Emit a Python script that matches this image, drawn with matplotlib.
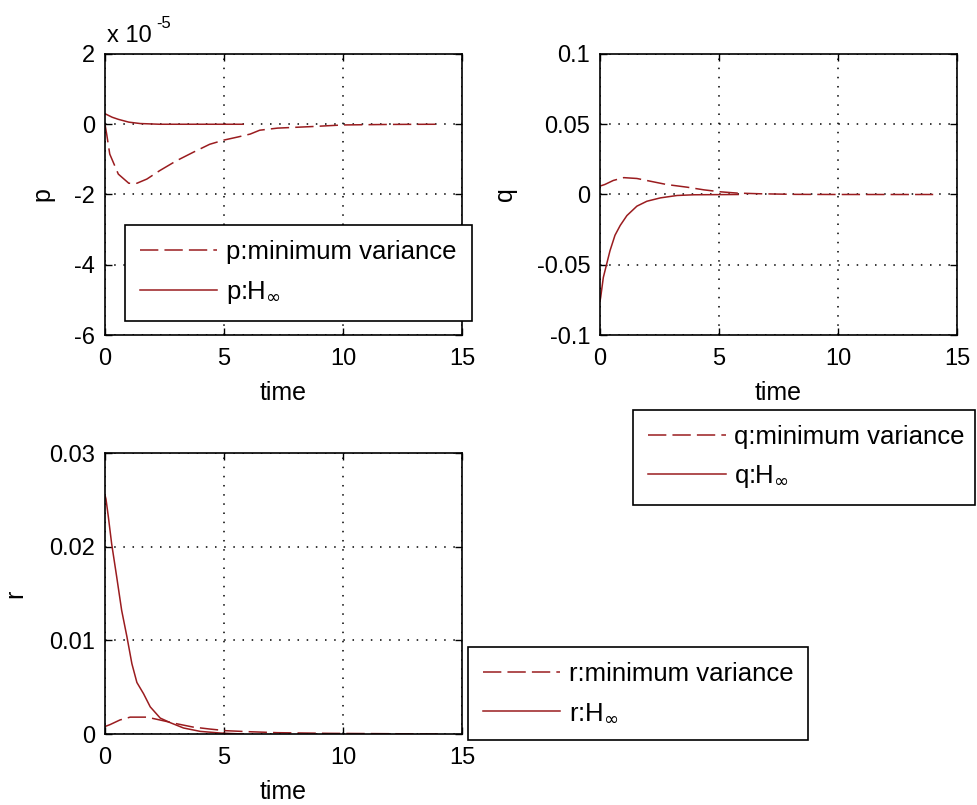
import numpy as np
import matplotlib
matplotlib.use("Agg")
import matplotlib.pyplot as plt

plt.rcParams['font.family'] = ['Liberation Sans', 'DejaVu Sans']
plt.rcParams['axes.unicode_minus'] = False
plt.rcParams['mathtext.fontset'] = 'dejavusans'

# p (units of 1e-5)
t_p_mv = [0, 0.07, 0.2, 0.56, 1.0, 1.34, 1.76, 2.3, 3.0, 3.7, 4.4, 5.0, 5.6, 6.1, 6.5, 7.25, 8.7, 10.0, 12.0, 14.0]
p_mv = [0, -0.28, -0.85, -1.42, -1.68, -1.68, -1.56, -1.32, -1.04, -0.8, -0.57, -0.45, -0.36, -0.28, -0.17, -0.11, -0.066, -0.02, -0.005, 0]
t_p_hinf = [0, 0.3, 0.56, 1.0, 1.48, 2.3, 3.5, 5.8]
p_hinf = [0.3, 0.2, 0.14, 0.06, 0.02, 0.0, 0.0, 0.0]

# q
t_q_mv = [0, 0.2, 0.56, 1.0, 1.55, 2.1, 2.8, 3.66, 4.37, 5.07, 5.77, 6.76, 8.2, 10, 14]
q_mv = [0.006, 0.0071, 0.010, 0.012, 0.0114, 0.0095, 0.0071, 0.0052, 0.0033, 0.0019, 0.001, 0.0005, 0.0001, 0, 0]
t_q_hinf = [0, 0.03, 0.14, 0.28, 0.42, 0.63, 0.85, 1.13, 1.55, 1.97, 2.54, 3.24, 3.94, 5.8]
q_hinf = [-0.076, -0.073, -0.059, -0.0495, -0.04, -0.029, -0.022, -0.015, -0.0083, -0.0048, -0.0024, -0.0007, -0.0002, 0]

# r
t_r_mv = [0, 0.21, 0.63, 1.06, 1.76, 2.3, 3.0, 3.7, 4.4, 5.1, 6.0, 7.25, 9.4, 14]
r_mv = [0.0008, 0.001, 0.0015, 0.0018, 0.0018, 0.0015, 0.0011, 0.00074, 0.00053, 0.00035, 0.00025, 0.00014, 0.00007, 0]
t_r_hinf = [0, 0.04, 0.14, 0.28, 0.49, 0.7, 0.92, 1.13, 1.34, 1.62, 1.9, 2.32, 2.75, 3.3, 4.0, 4.86, 5.8]
r_hinf = [0.0255, 0.0251, 0.0232, 0.0203, 0.0168, 0.0132, 0.0104, 0.0075, 0.0055, 0.0043, 0.0029, 0.0017, 0.0012, 0.00064, 0.00028, 0.0001, 0]

x_ticks = [0, 5, 10, 15]
p_ticks = [-6, -4, -2, 0, 2]
q_ticks = [-0.1, -0.05, 0, 0.05, 0.1]
q_labels = ['-0.1', '-0.05', '0', '0.05', '0.1']
r_ticks = [0, 0.01, 0.02, 0.03]
r_labels = ['0', '0.01', '0.02', '0.03']

col = '#9a1c1f'
W, H = 978, 805
fig = plt.figure(figsize=(W / 100, H / 100), dpi=100)


def fx(px):
    return px / W


def fy(py):
    return 1 - py / H


def make_ax(l, t, r, b):
    ax = fig.add_axes([fx(l), fy(b), fx(r - l), (b - t) / H])
    ax.tick_params(direction='in', length=5, width=1, top=True, right=True,
                   labelsize=17)
    ax.tick_params(axis='x', pad=9)
    ax.tick_params(axis='y', pad=7)
    for s in ax.spines.values():
        s.set_linewidth(1.2)
    ax.grid(True, color='black', linestyle=(0, (1, 5)), linewidth=1.1)
    ax.set_xlim(0, 15)
    ax.set_xticks(x_ticks)
    ax.set_xlabel('time', fontsize=18, labelpad=8)
    return ax


def legend(ax, name, box):
    l, t, r, b = box
    leg = ax.legend([name + ':minimum variance', name + ':H$_{\\infty}$'],
                    loc='center', mode='expand', borderaxespad=0,
                    bbox_to_anchor=(fx(l), fy(b), fx(r - l), (b - t) / H),
                    bbox_transform=fig.transFigure, fontsize=18.5,
                    handlelength=3.0, handletextpad=0.35, labelspacing=0.55,
                    borderpad=0.6, fancybox=False, framealpha=1,
                    edgecolor='black')
    leg.get_frame().set_linewidth(1.2)
    leg.set_zorder(10)


ax1 = make_ax(105, 54, 462, 335)
ax1.plot(t_p_mv, p_mv, color=col, lw=1.1, dashes=(12, 4))
ax1.plot(t_p_hinf, p_hinf, color=col, lw=1.1)
ax1.set_ylim(-6, 2)
ax1.set_yticks(p_ticks)
ax1.set_ylabel('p', fontsize=18, labelpad=14)
fig.text(fx(107), fy(42), 'x 10', fontsize=17, va='baseline', ha='left')
fig.text(fx(156), fy(28), '-5', fontsize=12, va='baseline', ha='left')
legend(ax1, 'p', (125, 226, 472, 320))

ax2 = make_ax(600, 54, 957, 335)
ax2.plot(t_q_mv, q_mv, color=col, lw=1.1, dashes=(12, 4))
ax2.plot(t_q_hinf, q_hinf, color=col, lw=1.1)
ax2.set_ylim(-0.1, 0.1)
ax2.set_yticks(q_ticks)
ax2.set_yticklabels(q_labels)
ax2.set_ylabel('q', fontsize=18, labelpad=14)
legend(ax2, 'q', (633, 411, 975, 504))

ax3 = make_ax(105, 453, 462, 734)
ax3.plot(t_r_mv, r_mv, color=col, lw=1.1, dashes=(12, 4))
ax3.plot(t_r_hinf, r_hinf, color=col, lw=1.1)
ax3.set_ylim(0, 0.03)
ax3.set_yticks(r_ticks)
ax3.set_yticklabels(r_labels)
ax3.set_ylabel('r', fontsize=18, labelpad=16)
legend(ax3, 'r', (468, 647, 808, 740))

fig.savefig('out.png', dpi=100)
